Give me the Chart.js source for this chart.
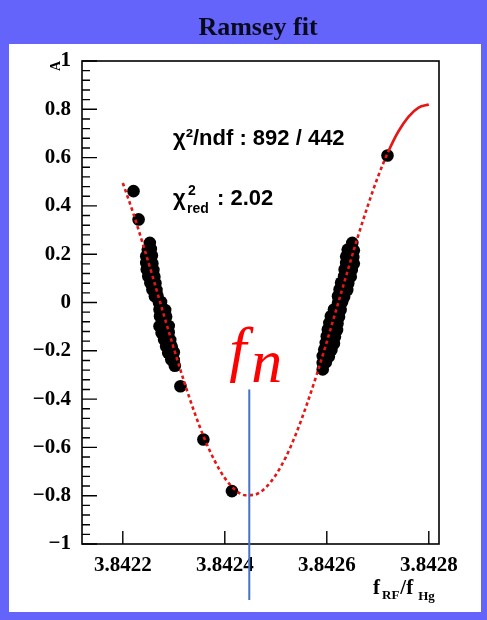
<!DOCTYPE html>
<html><head><meta charset="utf-8">
<script src="https://cdn.jsdelivr.net/npm/chart.js@4.4.1/dist/chart.umd.min.js"></script>
<style>html,body{margin:0;padding:0;background:#6464fa;overflow:hidden}canvas{display:block}</style>
</head><body>
<canvas id="c" width="487" height="620"></canvas>
<script>
// ---- data ----
const chartTitle = "Ramsey fit";
const xTicks = [3.8422, 3.8424, 3.8426, 3.8428];
const yTicks = [-1, -0.8, -0.6, -0.4, -0.2, 0, 0.2, 0.4, 0.6, 0.8, 1];
const xMin = 3.84212, xMax = 3.84282;
const yMin = -1, yMax = 1;

// fitted Ramsey curve
const fitF = [3.84220,3.84222,3.84224,3.84226,3.84228,3.84230,3.84232,3.84234,3.84236,3.84238,
              3.84240,3.84242,3.84244,3.84246,3.84248,3.84250,3.84252,3.84254,3.84256,3.84258,
              3.84260,3.84262,3.84264,3.84266,3.84268,3.84270,3.84272,3.84274,3.84276,3.84278,3.84280];
const fitA = [0.495,0.373,0.238,0.097,-0.048,-0.190,-0.326,-0.452,-0.563,-0.655,
              -0.727,-0.775,-0.798,-0.795,-0.767,-0.714,-0.639,-0.542,-0.427,-0.300,
              -0.163,-0.019,0.125,0.266,0.398,0.519,0.622,0.707,0.769,0.807,0.820];
const solidFrom = 3.84272;   // the fit line is drawn solid from here on

// measured points
const dataF = [
  3.842221,3.842231,
  3.842253,3.842249,3.842255,3.842246,3.842252,3.842257,3.842246,3.842251,3.842258,
  3.842247,3.842253,3.842260,3.842250,3.842256,3.842262,3.842254,3.842260,3.842264,
  3.842258,3.842263,3.842266,3.842263,3.842268,3.842271,3.842275,3.842272,3.842278,3.842283,
  3.842273,3.842279,3.842285,3.842272,3.842279,3.842286,3.842290,3.842276,3.842283,3.842290,
  3.842281,3.842287,3.842293,3.842285,3.842291,3.842296,3.842289,3.842295,3.842300,
  3.842295,3.842300,3.842302,3.842313,
  3.842358,3.842414,
  3.842650,3.842641,3.842647,3.842653,3.842638,3.842645,3.842652,3.842638,3.842645,3.842653,
  3.842635,3.842641,3.842649,3.842634,3.842640,3.842647,3.842628,3.842635,3.842642,
  3.842625,3.842632,3.842640,3.842622,3.842628,3.842634,3.842622,3.842630,
  3.842614,3.842621,3.842627,3.842608,3.842616,3.842624,3.842605,3.842613,3.842621,
  3.842602,3.842610,3.842620,3.842600,3.842607,3.842616,3.842598,3.842606,3.842614,
  3.842595,3.842602,3.842609,3.842592,3.842599,3.842604,3.842592,3.842598,3.842592,
  3.842719
];
const dataA = [
  0.461,0.344,
  0.247,0.219,0.222,0.192,0.190,0.195,0.164,0.167,0.162,
  0.137,0.140,0.135,0.109,0.112,0.107,0.082,0.085,0.080,
  0.054,0.057,0.052,0.026,0.028,-0.001,0.002,-0.029,-0.027,-0.031,
  -0.057,-0.055,-0.059,-0.098,-0.095,-0.100,-0.097,-0.125,-0.128,-0.123,
  -0.153,-0.150,-0.155,-0.181,-0.178,-0.183,-0.208,-0.210,-0.206,
  -0.236,-0.238,-0.262,-0.347,
  -0.567,-0.781,
  0.247,0.219,0.222,0.216,0.190,0.192,0.188,0.164,0.167,0.161,
  0.137,0.140,0.135,0.109,0.112,0.107,0.082,0.085,0.080,
  0.054,0.057,0.052,0.026,0.028,0.024,-0.001,0.002,
  -0.029,-0.027,-0.031,-0.057,-0.055,-0.059,-0.085,-0.082,-0.087,
  -0.112,-0.110,-0.114,-0.140,-0.137,-0.142,-0.167,-0.165,-0.170,
  -0.195,-0.192,-0.197,-0.222,-0.220,-0.224,-0.250,-0.248,-0.277,
  0.609
];

const fnValue = 3.842448;        // f_n marker position
const fnLineTop = -0.36;         // top of the blue marker (in A units)
const statChi2 = "892 / 442";
const statRed = "2.02";

// ---- chart ----
const SERIF = '"Liberation Serif", "Times New Roman", serif';
const SANS = '"Liberation Sans", Arial, sans-serif';

const deco = {
  id: 'deco',
  beforeDraw(chart) {
    const c = chart.ctx;
    c.save();
    c.fillStyle = '#6464fa';
    c.fillRect(0, 0, chart.width, chart.height);
    c.fillStyle = '#ffffff';
    c.fillRect(9, 44, 472, 568);
    c.fillStyle = '#0a0a1e';
    c.font = 'bold 26px ' + SERIF;
    c.textAlign = 'center';
    c.textBaseline = 'alphabetic';
    c.fillText(chartTitle, 258, 35);
    c.restore();
  },
  afterDraw(chart) {
    const c = chart.ctx, a = chart.chartArea;
    const xs = chart.scales.x, ys = chart.scales.y;
    c.save();
    // frame
    c.strokeStyle = '#000';
    c.lineWidth = 1.6;
    c.strokeRect(a.left, a.top, a.right - a.left, a.bottom - a.top);
    // y ticks (major + minor)
    c.lineWidth = 1.4;
    c.beginPath();
    for (let i = 0; i <= 50; i++) {
      const v = yMin + i * 0.04;
      const p = ys.getPixelForValue(v);
      const major = i % 5 === 0;
      c.moveTo(a.left, p);
      c.lineTo(a.left + (major ? 15 : 8), p);
    }
    // x ticks
    xTicks.forEach(v => {
      const p = xs.getPixelForValue(v);
      c.moveTo(p, a.bottom);
      c.lineTo(p, a.bottom - 13);
    });
    c.stroke();

    // y title "A"
    c.save();
    c.translate(56, 66);
    c.rotate(-Math.PI / 2);
    c.font = 'bold 14px ' + SERIF;
    c.textAlign = 'center';
    c.textBaseline = 'middle';
    c.fillStyle = '#000';
    c.fillText('A', 0, 0);
    c.restore();

    // x title f_RF / f_Hg
    c.fillStyle = '#000';
    c.textAlign = 'left';
    c.textBaseline = 'alphabetic';
    let x = 373;
    c.font = 'bold 21px ' + SERIF; c.fillText('f', x, 594); x += c.measureText('f').width + 2;
    c.font = 'bold 13px ' + SERIF; c.fillText('RF', x, 599); x += c.measureText('RF').width + 1;
    c.font = 'bold 21px ' + SERIF; c.fillText('/f', x, 594); x += c.measureText('/f').width + 5;
    c.font = 'bold 13px ' + SERIF; c.fillText('Hg', x, 600);

    // statistics text
    c.font = 'bold 22px ' + SANS;
    c.fillText('\u03C7\u00B2/ndf : ' + statChi2, 173, 145);
    c.fillText('\u03C7', 173, 205);
    c.font = 'bold 14px ' + SANS;
    c.fillText('2', 188, 195);
    c.fillText('red', 187, 213);
    c.font = 'bold 22px ' + SANS;
    c.fillText(': ' + statRed, 217, 205);

    // f_n marker
    const fx = xs.getPixelForValue(fnValue);
    c.strokeStyle = '#4472c4';
    c.lineWidth = 2;
    c.beginPath();
    c.moveTo(fx, ys.getPixelForValue(fnLineTop));
    c.lineTo(fx, a.bottom + 56);
    c.stroke();
    c.fillStyle = '#ff0000';
    c.font = 'italic 62px ' + SERIF;
    c.fillText('f', fx - 20, 370);
    c.fillText('n', fx + 2, 382);
    c.restore();
  }
};

new Chart(document.getElementById('c'), {
  type: 'scatter',
  data: {
    datasets: [
      {
        type: 'scatter',
        label: 'data',
        data: dataF.map((f, i) => ({ x: f, y: dataA[i] })),
        pointRadius: 6.3,
        pointHoverRadius: 6.3,
        backgroundColor: '#000',
        borderWidth: 0,
        order: 2
      },
      {
        type: 'line',
        label: 'fit',
        data: fitF.map((f, i) => ({ x: f, y: fitA[i] })),
        borderColor: 'rgb(228,22,22)',
        borderWidth: 2.6,
        borderDash: [3.5, 3],
        pointRadius: 0,
        fill: false,
        cubicInterpolationMode: 'monotone',
        segment: { borderDash: ctx => (ctx.p0.parsed.x >= solidFrom - 1e-9 ? [] : [3.5, 3]) },
        order: 1
      }
    ]
  },
  options: {
    responsive: false,
    animation: false,
    devicePixelRatio: 1,
    layout: { padding: { top: 61, right: 48, left: 0, bottom: 0 } },
    plugins: { legend: { display: false }, tooltip: { enabled: false }, title: { display: false } },
    scales: {
      x: {
        type: 'linear', min: xMin, max: xMax,
        grid: { display: false }, border: { display: false },
        afterBuildTicks: s => { s.ticks = xTicks.map(v => ({ value: v })); },
        afterFit: s => { s.height = 76; },
        ticks: {
          autoSkip: false, maxRotation: 0, padding: 1, color: '#000',
          font: { family: SERIF, size: 21, weight: 'bold' },
          callback: v => Number(v).toFixed(4)
        }
      },
      y: {
        type: 'linear', min: yMin, max: yMax,
        grid: { display: false }, border: { display: false },
        afterBuildTicks: s => { s.ticks = yTicks.map(v => ({ value: v })); },
        afterFit: s => { s.width = 82; },
        ticks: {
          autoSkip: false, padding: 3, color: '#000',
          font: { family: SERIF, size: 21, weight: 'bold' },
          callback: v => { const r = Math.round(v * 10) / 10; return r < 0 ? '\u2212' + String(-r) : String(r); }
        }
      }
    }
  },
  plugins: [deco]
});
</script>
</body></html>
